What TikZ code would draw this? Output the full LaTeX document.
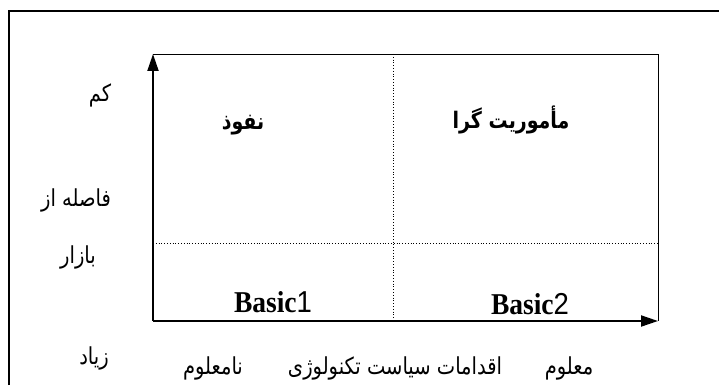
\documentclass[tikz,border=0pt]{standalone}
\usepackage{graphicx}
\usepackage{fontspec}
\setmainfont{Liberation Serif}
\setsansfont{Liberation Sans}
\newfontfamily\farsi[Script=Arabic]{DejaVu Sans}
\TeXXeTstate=1
\usetikzlibrary{arrows.meta}
\newcommand{\fa}[1]{\scalebox{1}[1.2]{\farsi\beginR #1\endR}}

\begin{document}
\begin{tikzpicture}[x=1pt,y=-1pt,
  axis/.style={line width=2pt,-{Triangle[length=17pt,width=11pt]}},
  gridline/.style={dotted,line width=0.8pt},
  lbl/.style={font=\fontsize{19.5}{19.5}\selectfont},
  quad/.style={font=\fontsize{19}{19}\selectfont\bfseries},
  basic/.style={font=\fontsize{27.5}{27.5}\selectfont}]
\useasboundingbox (0,0) rectangle (719,385);

% outer frame
\draw[line width=1.2pt] (9,385) -- (9,11) -- (719,11);

% axes and box
\coordinate (o) at (153,321);
\coordinate (ytop) at (153,54);
\coordinate (xend) at (658,321);
\coordinate (corner) at (658,54);
\draw[line width=0.9pt] (ytop) -- (corner) -- (xend);
\draw[axis] (o) -- (ytop);
\draw[axis] (o) -- (xend);

% quadrant lines
\coordinate (mt) at (393.6,54);
\coordinate (mb) at (393.6,321);
\coordinate (ml) at (153,243);
\coordinate (mr) at (658,243);
\draw[gridline] (mt) -- (mb);
\draw[gridline] (ml) -- (mr);

% quadrant names
\node[quad] (nofuz) at (243,125) {\fa{نفوذ}};
\node[quad] (mamur) at (511,120) {\fa{مأموریت گرا}};
\node[basic] (basic1) at (273,302) {\scalebox{1}[1.1]{\textbf{Basic}{\sffamily 1}}};
\node[basic] (basic2) at (530,304) {\scalebox{1}[1.1]{\textbf{Basic}{\sffamily 2}}};

% vertical axis labels
\node[lbl] (kam) at (100,95) {\fa{کم}};
\node[lbl] (fasele) at (76,200) {\fa{فاصله از}};
\node[lbl] (bazar) at (78,257) {\fa{بازار}};
\node[lbl] (ziad) at (94,358) {\fa{زیاد}};

% horizontal axis labels
\node[lbl] (namalum) at (213,368) {\fa{نامعلوم}};
\node[lbl] (eqdamat) at (395,368) {\fa{اقدامات سیاست تکنولوژی}};
\node[lbl] (malum) at (569,368) {\fa{معلوم}};
\end{tikzpicture}
\end{document}
